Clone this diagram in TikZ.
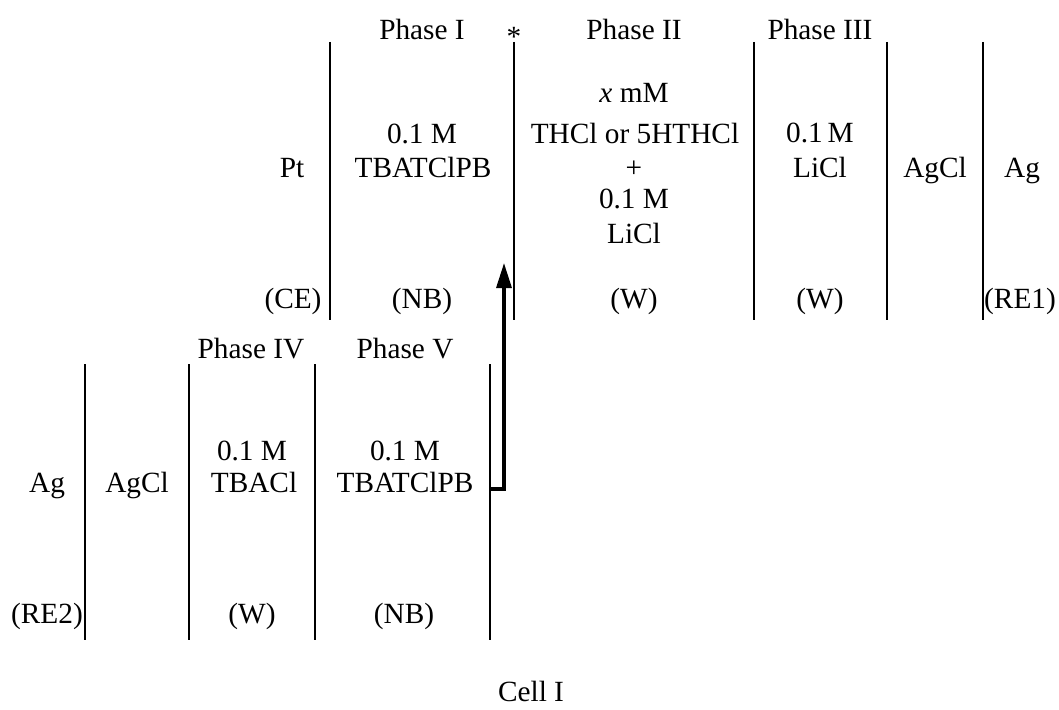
\documentclass[tikz,border=0pt]{standalone}
\usepackage{fontspec}
\setmainfont{Liberation Serif}
\usetikzlibrary{arrows.meta}
\begin{document}
\begin{tikzpicture}[x=1pt,y=-1pt,
  lbl/.style={inner sep=0pt,anchor=base,font=\fontsize{29.3}{35}\selectfont},
  wall/.style={line width=2.3pt},
  bridge/.style={line width=3.2pt,-{Triangle[width=15pt,length=25pt]}}]
\useasboundingbox (0,0) rectangle (1059,709);

% phase boundaries, upper cell half
\foreach \n/\x in {a/330,b/514,c/754,d/887,e/983}{
  \coordinate (t\n) at (\x,42);
  \coordinate (u\n) at (\x,320);
  \draw[wall] (t\n) -- (u\n);
}
% phase boundaries, lower cell half
\foreach \n/\x in {a/85,b/189,c/315,d/490}{
  \coordinate (p\n) at (\x,364);
  \coordinate (q\n) at (\x,640);
  \draw[wall] (p\n) -- (q\n);
}

% salt bridge from phase V up to phase I/II interface
\coordinate (bj) at (490,489);
\coordinate (btip) at (504,263);
\draw[bridge] (bj) -| (btip);

% upper half labels
\node[lbl] (h1) at (422,40) {Phase I};
\node[lbl] (ast) at (514,46) {*};
\node[lbl] (h2) at (634,40) {Phase II};
\node[lbl] (h3) at (820,40) {Phase III};

\node[lbl] (pt) at (292,177) {Pt};
\node[lbl] (c1a) at (422,143) {0.1 M};
\node[lbl] (c1b) at (423,177) {TBATClPB};

\node[lbl] (c2a) at (634,102) {\textit{x} mM};
\node[lbl] (c2b) at (635,143) {THCl or 5HTHCl};
\node[lbl] (c2c) at (634,177) {+};
\node[lbl] (c2d) at (634,208) {0.1 M};
\node[lbl] (c2e) at (634,243) {LiCl};

\node[lbl] (c3a) at (820,142) {0.1\,M};
\node[lbl] (c3b) at (820,177) {LiCl};
\node[lbl] (agcl1) at (935,177) {AgCl};
\node[lbl] (ag1) at (1022,177) {Ag};

\node[lbl] (ce) at (293,308) {(CE)};
\node[lbl] (nb1) at (422,308) {(NB)};
\node[lbl] (w2) at (634,308) {(W)};
\node[lbl] (w3) at (820,308) {(W)};
\node[lbl] (re1) at (1020,308) {(RE1)};

% lower half labels
\node[lbl] (h4) at (251,358) {Phase IV};
\node[lbl] (h5) at (405,358) {Phase V};

\node[lbl] (ag2) at (47,492) {Ag};
\node[lbl] (agcl2) at (137,492) {AgCl};
\node[lbl] (c4a) at (252,460) {0.1 M};
\node[lbl] (c4b) at (254,492) {TBACl};
\node[lbl] (c5a) at (405,460) {0.1 M};
\node[lbl] (c5b) at (405,492) {TBATClPB};

\node[lbl] (re2) at (47,623) {(RE2)};
\node[lbl] (w4) at (252,623) {(W)};
\node[lbl] (nb5) at (404,623) {(NB)};

\node[lbl] (cell) at (531,701) {Cell I};
\end{tikzpicture}
\end{document}
